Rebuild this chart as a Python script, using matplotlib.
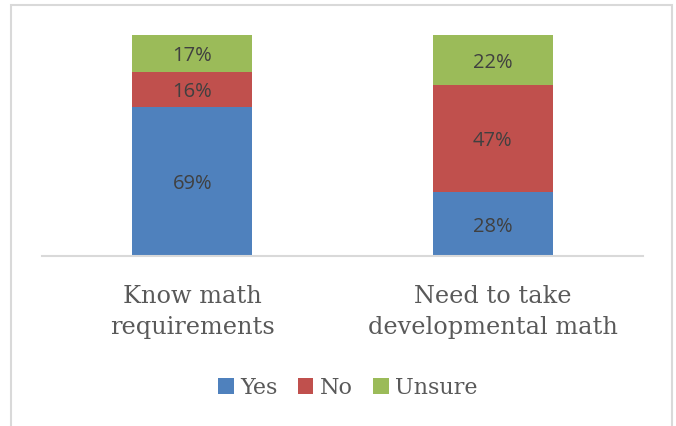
import matplotlib
matplotlib.use("Agg")
import matplotlib.pyplot as plt
from matplotlib.patches import Rectangle, Patch
import numpy as np

categories = ["Know math\nrequirements", "Need to take\ndevelopmental math"]
series_names = ["Yes", "No", "Unsure"]
yes_vals = [69, 28]
no_vals = [16, 47]
unsure_vals = [17, 22]
colors = ["#4F81BD", "#C0504D", "#9BBB59"]

W, H = 676, 426
fig = plt.figure(figsize=(W / 100, H / 100), dpi=100)
ax = fig.add_axes([42 / W, 1 - 256 / H, (643 - 42) / W, (256 - 35) / H])

data = np.array([yes_vals, no_vals, unsure_vals], dtype=float)
totals = data.sum(axis=0)
pct = data / totals * 100
x = np.arange(len(categories))
bottom = np.zeros(len(categories))
for i, name in enumerate(series_names):
    ax.bar(x, pct[i], 0.4, bottom=bottom, color=colors[i], label=name, zorder=2)
    for j in range(len(categories)):
        ax.text(x[j], bottom[j] + pct[i][j] / 2, f"{int(data[i][j])}%",
                ha="center", va="center_baseline", fontsize=14.5, color="#404040",
                family="Open Sans")
    bottom += pct[i]

ax.set_xlim(-0.5, 1.5)
ax.set_ylim(0, 100)
for s in ["top", "right", "left"]:
    ax.spines[s].set_visible(False)
ax.spines["bottom"].set_color("#D9D9D9")
ax.spines["bottom"].set_linewidth(1.5)
ax.set_yticks([])
ax.set_xticks(x)
ax.set_xticklabels(categories, fontsize=17.3, color="#595959", family="DejaVu Serif",
                   linespacing=1.45)
ax.tick_params(axis="x", length=0, pad=21)

handles = [Patch(facecolor=c, label=n) for c, n in zip(colors, series_names)]
leg = fig.legend(handles=handles, loc="center", bbox_to_anchor=(348 / W, 1 - 388 / H),
                 ncol=3, frameon=False, handlelength=0.7, handleheight=0.7,
                 handletextpad=0.3, columnspacing=0.9,
                 prop={"family": "DejaVu Serif", "size": 16})
for t in leg.get_texts():
    t.set_color("#595959")

fig.patches.append(Rectangle((11 / W, -0.05), (672 - 11) / W, 1 - 5 / H + 0.05,
                             transform=fig.transFigure, fill=False,
                             edgecolor="#D9D9D9", linewidth=1.5))

fig.savefig("out.png", dpi=100)
